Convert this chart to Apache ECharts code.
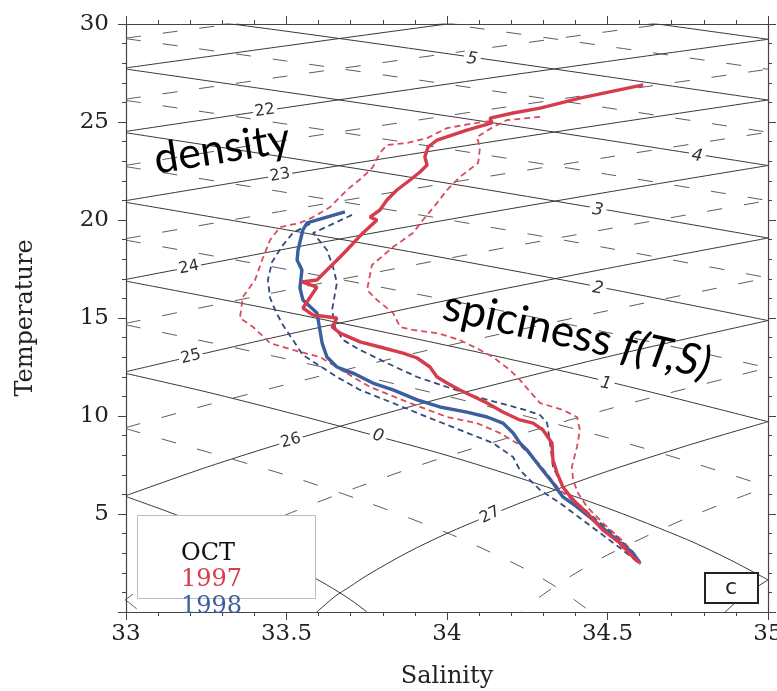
<!DOCTYPE html>
<html><head><meta charset="utf-8">
<script src="https://cdn.jsdelivr.net/npm/echarts/dist/echarts.min.js"></script>
<style>html,body{margin:0;padding:0;background:#fff}#c{width:777px;height:691px}</style>
</head><body><div id="c"></div>
<script>
// ---- axes ----
const salinityTicks = [33, 33.5, 34, 34.5, 35];
const temperatureTicks = [0, 5, 10, 15, 20, 25, 30];

// ---- T-S profiles, October (salinity, temperature) ----
const mean1997 = [[34.611,26.89],[34.414,26.22],[34.290,25.71],[34.206,25.46],[34.134,25.20],[34.140,24.95],[34.062,24.59],[33.969,24.08],[33.941,23.72],[33.931,23.21],[33.938,22.81],[33.916,22.45],[33.885,22.04],[33.844,21.53],[33.813,21.02],[33.791,20.51],[33.760,20.15],[33.782,20.00],[33.738,19.34],[33.688,18.47],[33.667,18.11],[33.626,17.45],[33.595,16.94],[33.548,16.84],[33.595,16.58],[33.551,15.51],[33.583,15.15],[33.657,15.00],[33.642,14.54],[33.667,14.23],[33.729,13.78],[33.791,13.52],[33.863,13.21],[33.907,12.96],[33.947,12.50],[33.969,11.99],[34.000,11.68],[34.040,11.33],[34.125,10.66],[34.174,10.20],[34.227,9.80],[34.268,9.64],[34.299,9.29],[34.327,8.62],[34.330,7.76],[34.343,7.09],[34.361,6.38],[34.393,5.71],[34.436,5.05],[34.486,4.18],[34.539,3.52],[34.579,2.81],[34.601,2.50]];
const upper1997 = [[34.290,25.26],[34.187,25.10],[34.143,24.74],[34.093,24.23],[34.103,23.72],[34.097,22.91],[34.040,22.19],[34.000,21.53],[33.969,20.87],[33.925,20.00],[33.894,19.34],[33.832,18.62],[33.766,17.70],[33.751,16.43],[33.782,15.92],[33.832,15.26],[33.854,14.54],[33.894,14.39],[33.969,14.23],[34.040,13.88],[34.103,13.37],[34.143,13.01],[34.196,12.35],[34.227,11.84],[34.290,10.66],[34.361,10.31],[34.405,9.95],[34.414,9.29],[34.405,8.42],[34.389,7.40],[34.393,6.73],[34.408,6.07],[34.436,5.36],[34.492,4.44],[34.545,3.67],[34.586,2.91],[34.607,2.40]];
const lower1997 = [[34.134,25.05],[34.072,24.90],[34.000,24.69],[33.938,24.18],[33.875,23.93],[33.813,23.83],[33.791,23.42],[33.769,22.70],[33.738,22.19],[33.688,21.53],[33.636,20.66],[33.583,20.15],[33.542,19.85],[33.480,19.64],[33.449,18.98],[33.424,17.96],[33.402,16.94],[33.364,16.07],[33.355,15.00],[33.396,14.54],[33.449,13.72],[33.520,13.37],[33.604,13.01],[33.682,12.24],[33.760,11.48],[33.885,10.66],[34.000,9.95],[34.093,9.64],[34.165,9.13],[34.227,8.52],[34.290,7.50],[34.352,6.22],[34.430,5.20],[34.508,3.93],[34.570,2.91],[34.601,2.50]];
const mean1998 = [[33.682,20.41],[33.564,19.85],[33.551,19.49],[33.536,18.47],[33.533,17.96],[33.548,17.45],[33.542,16.53],[33.551,15.92],[33.595,15.26],[33.604,14.39],[33.611,13.72],[33.626,13.01],[33.657,12.50],[33.707,12.19],[33.769,11.68],[33.832,11.33],[33.907,10.82],[33.978,10.46],[34.062,10.20],[34.125,9.95],[34.174,9.64],[34.206,9.13],[34.227,8.62],[34.249,8.27],[34.290,7.40],[34.330,6.58],[34.361,5.87],[34.405,5.36],[34.467,4.54],[34.530,3.67],[34.579,3.01],[34.601,2.50]];
const upper1998 = [[33.704,20.26],[33.636,19.74],[33.583,19.34],[33.626,18.47],[33.645,17.60],[33.657,16.79],[33.642,15.41],[33.651,14.54],[33.676,13.88],[33.729,13.37],[33.813,12.70],[33.907,11.99],[34.000,11.48],[34.093,10.97],[34.165,10.66],[34.243,10.31],[34.290,10.05],[34.312,9.64],[34.321,8.62],[34.330,7.40],[34.361,6.38],[34.405,5.56],[34.467,4.69],[34.530,3.83],[34.579,3.06],[34.604,2.50]];
const lower1998 = [[33.573,19.80],[33.520,19.34],[33.489,18.72],[33.455,17.86],[33.442,16.94],[33.449,16.02],[33.467,15.31],[33.489,14.64],[33.520,13.88],[33.551,13.11],[33.614,12.45],[33.657,11.99],[33.729,11.33],[33.832,10.66],[33.938,9.95],[34.040,9.29],[34.143,8.62],[34.206,7.91],[34.227,7.24],[34.290,6.22],[34.352,5.56],[34.414,4.80],[34.477,4.03],[34.539,3.27],[34.586,2.65],[34.601,2.40]];

// ---- background contours (salinity, temperature) ----
const densitySolid = [
  [[33,27.76],[33.5,28.89],[34,30.0],[34.5,31.07]],
  [[33,24.52],[33.5,25.74],[34,26.93],[34.5,28.09],[35,29.22]],
  [[33,20.99],[33.5,22.34],[34,23.64],[34.5,24.90],[35,26.12]],
  [[33,16.97],[33.5,18.53],[34,20.01],[34.5,21.42],[35,22.78]],
  [[33,12.26],[33.5,14.15],[34,15.90],[34.5,17.53],[35,19.08]],
  [[33,5.94],[33.25,7.38],[33.5,8.68],[33.75,9.86],[34,10.98],[34.5,13.02],[35,14.87]],
  [[33.55,-0.65],[33.6,0.08],[33.65,0.78],[33.7,1.32],[33.75,1.86],[33.875,3.02],[34,4.01],[34.125,4.88],[34.25,5.70],[34.5,7.18],[34.75,8.5],[35,9.71]],
  [[34.8,-1.1],[34.85,-0.27],[34.9,0.5],[34.95,1.1],[35,1.64]]
];
const densityDashed = [
  [[33,29.28],[33.5,30.38]],
  [[33,26.17],[33.5,27.34],[34,28.49],[34.5,29.61],[35,30.70]],
  [[33,22.79],[33.5,24.08],[34,25.32],[34.5,26.52],[35,27.69]],
  [[33,19.05],[33.5,20.49],[34,21.88],[34.5,23.20],[35,24.48]],
  [[33,14.73],[33.5,16.42],[34,18.03],[34.5,19.54],[35,20.99]],
  [[33,9.41],[33.25,10.55],[33.5,11.61],[33.75,12.62],[34,13.58],[34.5,15.37],[35,17.05]],
  [[32.9,-0.85],[33,0.64],[33.05,1.22],[33.1,1.76],[33.25,3.13],[33.5,4.97],[33.75,6.54],[34,7.94],[34.5,10.34],[35,12.46]],
  [[34.2,-0.5],[34.25,0.25],[34.3,0.9],[34.375,1.72],[34.5,2.91],[34.75,4.81],[35,6.40]]
];
const spiceSolid = [
  [[34.4,30.57],[34.5,30.35],[35,29.22]],
  [[33,30.7],[33.5,29.63],[34,28.49],[34.5,27.31],[35,26.12]],
  [[33,27.70],[33.5,26.52],[34,25.31],[34.5,24.07],[35,22.78]],
  [[33,24.45],[33.5,23.19],[34,21.88],[34.5,20.51],[35,19.08]],
  [[33,20.90],[33.5,19.50],[34,18.04],[34.5,16.50],[35,14.87]],
  [[33,16.88],[33.5,15.30],[34,13.60],[34.5,11.76],[35,9.71]],
  [[33,12.17],[33.25,11.23],[33.5,10.20],[33.75,9.11],[34,7.99],[34.25,6.71],[34.5,5.30],[34.75,3.68],[34.875,2.72],[35,1.64]],
  [[33,5.89],[33.125,5.15],[33.25,4.36],[33.375,3.47],[33.5,2.51],[33.625,1.39],[33.7,0.62],[33.75,0],[33.85,-1.5]]
];
const spiceDashed = [
  [[33.5,31.1],[34,30.0],[34.5,28.86],[35,27.69]],
  [[33,29.25],[33.5,28.11],[34,26.93],[34.5,25.72],[35,24.48]],
  [[33,26.10],[33.5,24.89],[34,23.63],[34.5,22.33],[35,20.99]],
  [[33,22.72],[33.5,21.40],[34,20.02],[34.5,18.57],[35,17.05]],
  [[33,18.97],[33.5,17.48],[34,15.92],[34.5,14.26],[35,12.46]],
  [[33,14.65],[33.5,12.91],[34,11.01],[34.25,9.97],[34.5,8.89],[34.75,7.69],[35,6.40]],
  [[33,9.35],[33.5,6.98],[33.75,5.6],[34,4.04],[34.125,3.13],[34.25,2.14],[34.35,1.17],[34.45,0],[34.6,-1.5]],
  [[32.9,1.65],[33,0.6],[33.1,-0.8]]
];

// contour labels
const densityLabels = ['22','23','24','25','26','27'];
const densityLabelPos = [[33.433,25.58],[33.48,22.29],[33.196,17.58],[33.202,13.02],[33.514,8.74],[34.134,4.95]];
const spiceLabels = ['5','4','3','2','1','0'];
const spiceLabelPos = [[34.078,28.2],[34.779,23.25],[34.47,20.5],[34.47,16.5],[34.495,11.65],[33.785,8.98]];

// styles (not data)
const densityLabelRot = [0.15, 0.17, 0.19, 0.23, 0.27, 0.45];
const spiceLabelRot = [-0.15, -0.15, -0.15, -0.17, -0.2, -0.25];
const RED = '#d63c4b', RED_D = '#d84b5c', BLUE = '#3b5f9e', BLUE_D = '#334a7c';
const SERIF = '"DejaVu Serif", serif';

const chart = echarts.init(document.getElementById('c'), null, {renderer: 'canvas'});
const series = [];
function addContours(list, dashed) {
  list.forEach(d => series.push({
    type: 'line', data: d, symbol: 'none', silent: true, z: 1, animation: false, smooth: 0.3,
    lineStyle: {color: dashed ? '#5c5c5c' : '#383838', width: 1, type: dashed ? [15, 22] : 'solid'}
  }));
}
addContours(densitySolid, false);
addContours(densityDashed, true);
addContours(spiceSolid, false);
addContours(spiceDashed, true);
function addProfile(name, d, color, width, dashed, z) {
  series.push({type: 'line', name: name, data: d, symbol: 'none', z: z, animation: false,
    lineStyle: {color: color, width: width, type: dashed ? [6, 4] : 'solid'}});
}
addProfile('1998 -', lower1998, BLUE_D, 1.8, true, 3);
addProfile('1998 +', upper1998, BLUE_D, 1.8, true, 3);
addProfile('1997 -', lower1997, RED_D, 1.8, true, 3);
addProfile('1997 +', upper1997, RED_D, 1.8, true, 3);
addProfile('1998', mean1998, BLUE, 3.4, false, 4);
addProfile('1997', mean1997, RED, 3.4, false, 5);

const axisCommon = {
  type: 'value', splitLine: {show: false},
  axisLine: {show: true, onZero: false, lineStyle: {color: '#444', width: 1.2}},
  axisTick: {show: true, length: 8, lineStyle: {color: '#444'}},
  minorTick: {show: true, splitNumber: 5, length: 4, lineStyle: {color: '#444'}}
};
const sMin = salinityTicks[0], sMax = salinityTicks[salinityTicks.length - 1];
const tMin = temperatureTicks[0], tMax = temperatureTicks[temperatureTicks.length - 1];
const sInt = salinityTicks[1] - salinityTicks[0], tInt = temperatureTicks[1] - temperatureTicks[0];

chart.setOption({
  backgroundColor: '#fff',
  animation: false,
  grid: {left: 126, right: 9, top: 24, bottom: 79, containLabel: false, outerBoundsMode: 'none'},
  xAxis: [
    Object.assign({}, axisCommon, {min: sMin, max: sMax, interval: sInt, position: 'bottom',
      name: 'Salinity', nameLocation: 'middle', nameGap: 53,
      nameTextStyle: {fontFamily: SERIF, fontSize: 24, color: '#222'},
      axisLabel: {fontFamily: SERIF, fontSize: 23, color: '#222', margin: 11,
        formatter: v => String(v)}}),
    Object.assign({}, axisCommon, {min: sMin, max: sMax, interval: sInt, position: 'top',
      axisLabel: {show: false}})
  ],
  yAxis: [
    Object.assign({}, axisCommon, {min: tMin, max: tMax, interval: tInt, position: 'left',
      name: 'Temperature', nameLocation: 'middle', nameGap: 88, nameRotate: 90,
      nameTextStyle: {fontFamily: SERIF, fontSize: 24, color: '#222'},
      axisLabel: {fontFamily: SERIF, fontSize: 23, color: '#222', margin: 17,
        formatter: v => (v === tMin ? '' : String(v))}}),
    Object.assign({}, axisCommon, {min: tMin, max: tMax, interval: tInt, position: 'right',
      axisLabel: {show: false}})
  ],
  series: series
});

// labels & annotations
const g = [];
densityLabels.forEach((t, i) => {
  const p = chart.convertToPixel({gridIndex: 0}, densityLabelPos[i]);
  g.push({type: 'text', x: p[0], y: p[1], rotation: densityLabelRot[i], z: 10,
    style: {text: t, fontFamily: '"DejaVu Sans", sans-serif', fontSize: 16, fill: '#333',
      align: 'center', verticalAlign: 'middle', backgroundColor: '#fff', padding: [0, 2]}});
});
spiceLabels.forEach((t, i) => {
  const p = chart.convertToPixel({gridIndex: 0}, spiceLabelPos[i]);
  g.push({type: 'text', x: p[0], y: p[1], rotation: spiceLabelRot[i], z: 10,
    style: {text: t, fontFamily: '"DejaVu Sans", sans-serif', fontStyle: 'italic', fontSize: 17, fill: '#333',
      align: 'center', verticalAlign: 'middle', backgroundColor: '#fff', padding: [0, 3]}});
});
// legend box
g.push({type: 'rect', shape: {x: 137.5, y: 515.5, width: 178, height: 83}, z: 20,
  style: {fill: '#fff', stroke: '#bdbdbd', lineWidth: 1}});
g.push({type: 'text', x: 181, y: 542, z: 21, style: {text: 'OCT', fontFamily: SERIF, fontSize: 24, fill: '#111', verticalAlign: 'alphabetic'}});
g.push({type: 'text', x: 181, y: 568, z: 21, style: {text: '1997', fontFamily: SERIF, fontSize: 24, fill: RED, verticalAlign: 'alphabetic'}});
g.push({type: 'text', x: 181, y: 595, z: 21, style: {text: '1998', fontFamily: SERIF, fontSize: 24, fill: BLUE, verticalAlign: 'alphabetic'}});
// panel tag
g.push({type: 'rect', shape: {x: 705, y: 573, width: 53, height: 30}, z: 20,
  style: {fill: '#fff', stroke: '#222', lineWidth: 2}});
g.push({type: 'text', x: 731, y: 588, z: 21, style: {text: 'c', fontFamily: '"DejaVu Sans", sans-serif', fontSize: 22, fill: '#222', align: 'center', verticalAlign: 'middle'}});
// annotations
g.push({type: 'text', x: 222, y: 149, rotation: 0.16, z: 22,
  style: {text: 'density', fontFamily: 'Lato, "Open Sans", sans-serif', fontSize: 43, fill: '#000', align: 'center', verticalAlign: 'middle'}});
g.push({type: 'text', x: 577, y: 335, rotation: -0.22, z: 22,
  style: {text: '{a|spiciness }{b|f(T,S)}', align: 'center', verticalAlign: 'middle',
    rich: {a: {fontFamily: 'Lato, "Open Sans", sans-serif', fontSize: 44, fill: '#000', color: '#000'},
           b: {fontFamily: 'Lato, "Open Sans", sans-serif', fontSize: 44, fontStyle: 'italic', fill: '#000', color: '#000'}}}});
chart.setOption({graphic: g});
</script></body></html>
